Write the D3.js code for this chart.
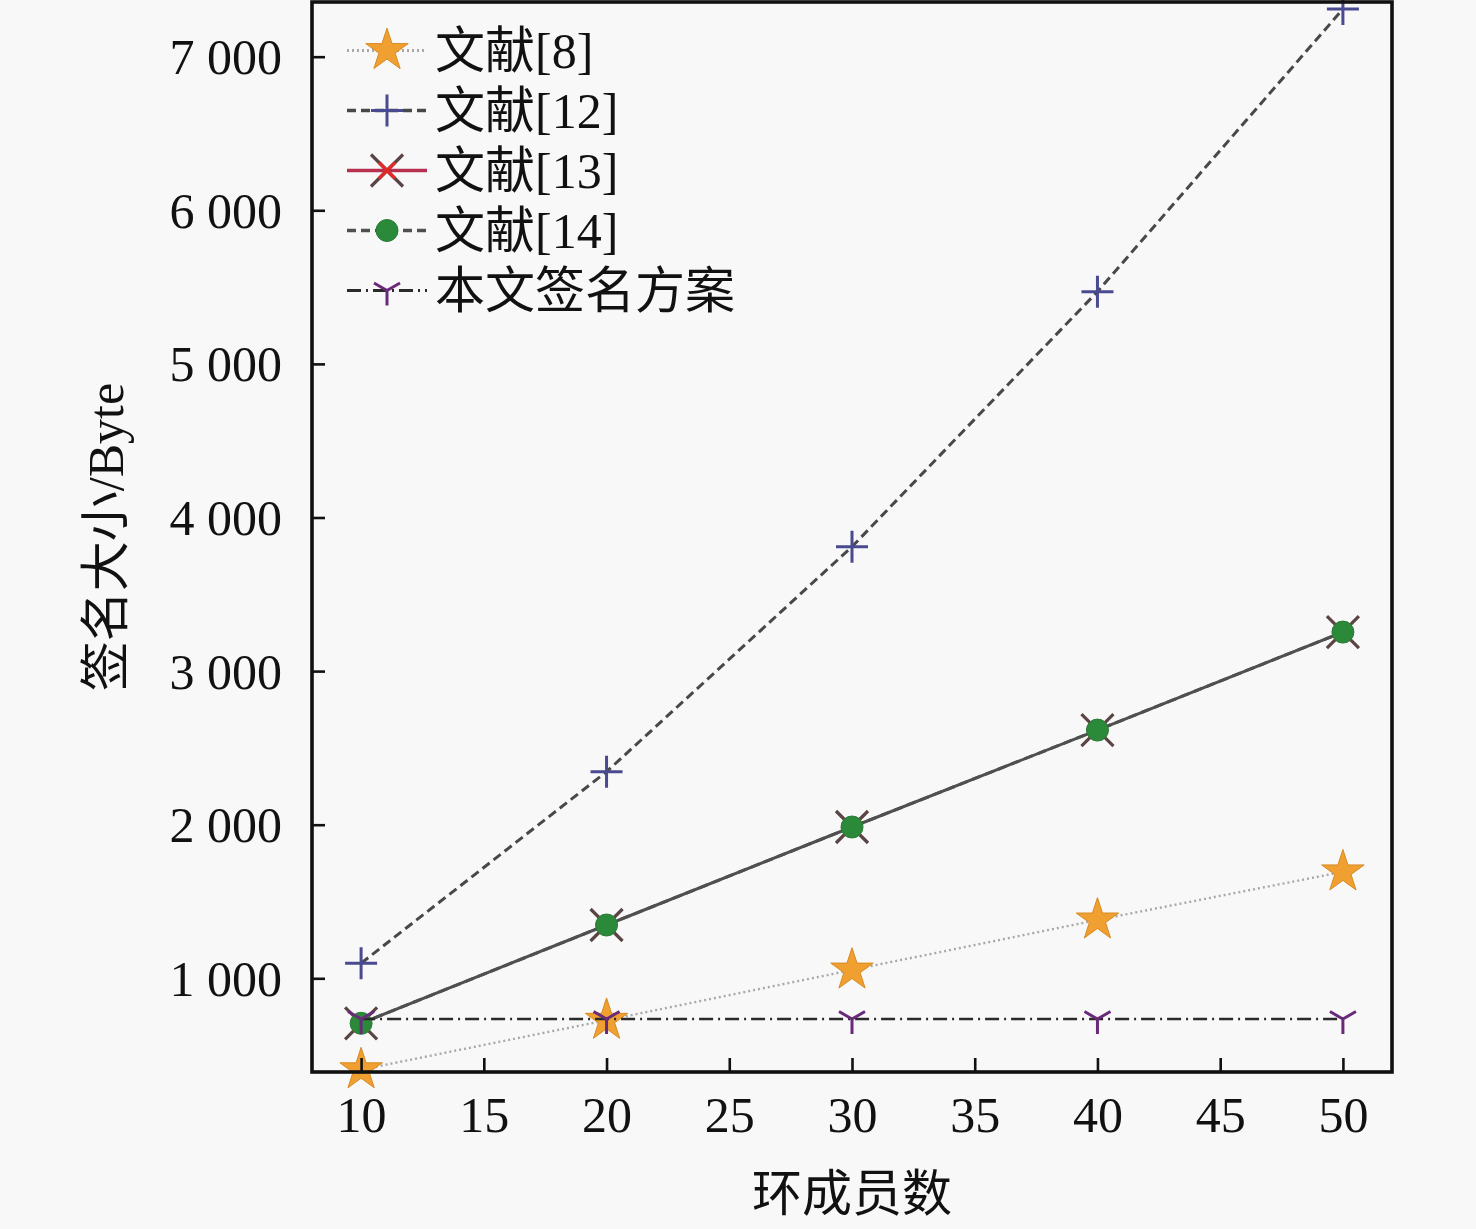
<!DOCTYPE html>
<html>
<head>
<meta charset="utf-8">
<script src="https://cdn.jsdelivr.net/npm/d3@7/dist/d3.min.js"></script>
<style>
  html, body { margin: 0; padding: 0; background: #f8f8f8; }
  svg { display: block; }
  text { font-family: "Liberation Serif", "Noto Sans CJK SC", serif; fill: #111; }
</style>
</head>
<body>
<svg id="chart" width="1476" height="1229"></svg>
<script>
// ---- data ----
const members = [10, 20, 30, 40, 50];
const seriesNames = ["文献[8]", "文献[12]", "文献[13]", "文献[14]", "本文签名方案"];
const ref8  = [405, 727, 1054, 1380, 1693];
const ref12 = [1098, 2345, 3810, 5470, 7310];
const ref13 = [707, 1347, 1985, 2616, 3254];
const ref14 = [707, 1347, 1985, 2616, 3254];
const ours  = [735, 735, 735, 735, 735];
const xTicks = [10, 15, 20, 25, 30, 35, 40, 45, 50];
const yTicks = [1000, 2000, 3000, 4000, 5000, 6000, 7000];
const xTitle = "环成员数";
const yTitle = "签名大小/Byte";

// ---- styles ----
const styles = [
  {marker: "star",  mcolor: "#f0a030", mstroke: "#d88a20", line: "#a8a8a8", lw: 2.4, dash: "2,3",      legendLine: "#a8a8a8"},
  {marker: "plus",  mcolor: "#4a4a90", mstroke: "#4a4a90", line: "#484848", lw: 3,   dash: "9,5",      legendLine: "#484848"},
  {marker: "x",     mcolor: "#e02a2a", mstroke: "#5a4444", line: "#505050", lw: 3,   dash: null,       legendLine: "#b83050"},
  {marker: "circle",mcolor: "#2a8a3a", mstroke: "#2a7a34", line: "#505050", lw: 3,   dash: "9,5",      legendLine: "#505050"},
  {marker: "tri",   mcolor: "#6a2a7a", mstroke: "#3a2a3a", line: "#2a2a2a", lw: 2.6, dash: "14,5,2,5", legendLine: "#2a2a2a"}
];
const values = [ref8, ref12, ref13, ref14, ours];

const svg = d3.select("#chart");
const L = 312, R = 1392, T = 2, B = 1072;
const x = d3.scaleLinear().domain([8, 52]).range([L, R]);
const y = d3.scaleLinear().domain([390, 7356]).range([B, T]);

svg.append("rect").attr("x", L).attr("y", T).attr("width", R - L).attr("height", B - T)
  .attr("fill", "#f8f8f8");

function drawMarker(g, type, cx, cy, st) {
  if (type === "star") {
    g.append("path").attr("d", d3.symbol().type(d3.symbolStar).size(560)())
      .attr("transform", `translate(${cx},${cy})`)
      .attr("fill", st.mcolor).attr("stroke", st.mstroke).attr("stroke-width", 1);
  } else if (type === "plus") {
    const s = 16;
    g.append("path").attr("d", `M${-s},0H${s}M0,${-s}V${s}`)
      .attr("transform", `translate(${cx},${cy})`)
      .attr("stroke", st.mcolor).attr("stroke-width", 3).attr("fill", "none");
  } else if (type === "x") {
    const s = 16, s2 = 8;
    g.append("path").attr("d", `M${-s},${-s}L${s},${s}M${-s},${s}L${s},${-s}`)
      .attr("transform", `translate(${cx},${cy})`)
      .attr("stroke", st.mstroke).attr("stroke-width", 3.2).attr("fill", "none");
    g.append("path").attr("d", `M${-s2},${-s2}L${s2},${s2}M${-s2},${s2}L${s2},${-s2}`)
      .attr("transform", `translate(${cx},${cy})`)
      .attr("stroke", st.mcolor).attr("stroke-width", 3.2).attr("fill", "none");
  } else if (type === "circle") {
    g.append("circle").attr("cx", cx).attr("cy", cy).attr("r", 11)
      .attr("fill", st.mcolor).attr("stroke", st.mstroke).attr("stroke-width", 1);
  } else if (type === "tri") {
    const s = 15, a = s * Math.cos(Math.PI / 6), b = s * 0.5;
    g.append("path").attr("d", `M0,0V${s}M0,0L${-a},${-b}M0,0L${a},${-b}`)
      .attr("transform", `translate(${cx},${cy})`)
      .attr("stroke", st.mcolor).attr("stroke-width", 3).attr("fill", "none");
  }
}

const plot = svg.append("g");
const lineGen = d3.line().x((d, i) => x(members[i])).y(d => y(d));
values.forEach((vals, k) => {
  const st = styles[k];
  const g = plot.append("g");
  g.append("path").datum(vals).attr("d", lineGen)
    .attr("fill", "none").attr("stroke", st.line).attr("stroke-width", st.lw)
    .attr("stroke-dasharray", st.dash);
  vals.forEach((v, i) => drawMarker(g, st.marker, x(members[i]), y(v), st));
});

// frame
svg.append("rect").attr("x", L).attr("y", T).attr("width", R - L).attr("height", B - T)
  .attr("fill", "none").attr("stroke", "#111").attr("stroke-width", 3.6);

// axes (ticks inward)
const xAxis = svg.append("g").attr("transform", `translate(0,${B})`)
  .call(d3.axisBottom(x).tickValues(xTicks).tickSizeInner(-14).tickSizeOuter(0).tickPadding(24));
const yAxis = svg.append("g").attr("transform", `translate(${L},0)`)
  .call(d3.axisLeft(y).tickValues(yTicks).tickSizeInner(-13).tickSizeOuter(0).tickPadding(30)
    .tickFormat(d => d3.format(",")(d).replace(",", " ")));
[xAxis, yAxis].forEach(a => {
  a.select(".domain").remove();
  a.selectAll(".tick line").attr("stroke", "#111").attr("stroke-width", 2.6);
  a.selectAll(".tick text").attr("font-size", 50).attr("fill", "#111");
});
xAxis.selectAll(".tick text").attr("dy", "0.71em");
yAxis.selectAll(".tick text").attr("dy", "0.34em");

// axis titles
svg.append("text").attr("x", (L + R) / 2).attr("y", 1211)
  .attr("text-anchor", "middle").attr("font-size", 50).text(xTitle);
svg.append("text").attr("transform", `translate(123,${(T + B) / 2}) rotate(-90)`)
  .attr("text-anchor", "middle").attr("font-size", 50).text(yTitle);

// legend
const legend = svg.append("g");
seriesNames.forEach((name, k) => {
  const st = styles[k];
  const ly = 50.5 + 60 * k;
  const g = legend.append("g");
  g.append("line").attr("x1", 347).attr("x2", 427).attr("y1", ly).attr("y2", ly)
    .attr("stroke", st.legendLine).attr("stroke-width", st.lw + 0.4)
    .attr("stroke-dasharray", st.dash);
  drawMarker(g, st.marker, 387, ly, st);
  g.append("text").attr("x", 435).attr("y", ly).attr("dy", "0.35em")
    .attr("font-size", 50).text(name);
});
</script>
</body>
</html>
